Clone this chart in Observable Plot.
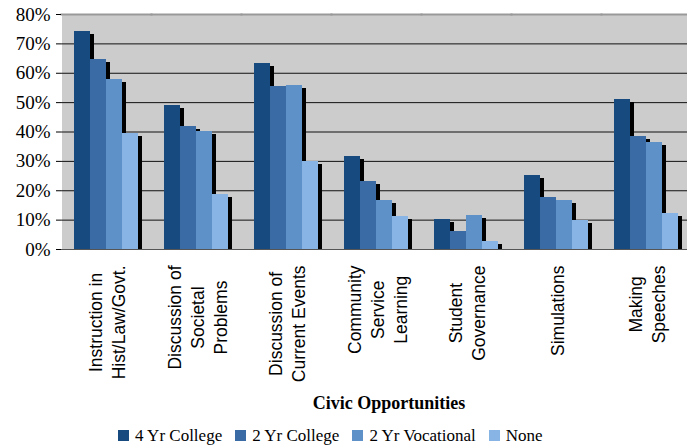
<!DOCTYPE html>
<html><head><meta charset="utf-8">
<script src="https://cdn.jsdelivr.net/npm/d3@7"></script>
<script src="https://cdn.jsdelivr.net/npm/@observablehq/plot@0.6"></script>
<style>
html,body{margin:0;padding:0;background:#fff}
#chart{position:relative;width:687px;height:445px;overflow:hidden}
#title{position:absolute;left:0;width:778px;top:393px;height:20px;line-height:20px;text-align:center;font:bold 18px "Liberation Serif",serif;color:#000}
#legend{position:absolute;left:118px;top:427px;height:17px;display:flex;align-items:center;font:17px "Liberation Serif",serif;color:#000;white-space:nowrap}
#legend .sw{width:11px;height:11px;margin-right:6px}
#legend .it{display:flex;align-items:center;margin-right:13px}
</style></head><body><div id="chart"></div><script>
const categories = ["Instruction in\nHist/Law/Govt.", "Discussion of\nSocietal\nProblems", "Discussion of\nCurrent Events", "Community\nService\nLearning", "Student\nGovernance", "Simulations", "Making\nSpeeches"];
const series = ["4 Yr College", "2 Yr College", "2 Yr Vocational", "None"];
const colors = ["#174a7e", "#3a6ba4", "#5e91c8", "#87b4e5"];
const college4 = [74.2, 49.0, 63.3, 31.7, 10.2, 25.2, 51.1];
const college2 = [64.7, 41.9, 55.5, 23.1, 6.1, 17.7, 38.5];
const vocational = [57.9, 40.2, 55.8, 16.7, 11.6, 16.7, 36.4];
const none = [39.4, 18.7, 29.9, 11.2, 2.7, 9.9, 12.3];
const yTicks = [0, 10, 20, 30, 40, 50, 60, 70, 80];
const xTitle = "Civic Opportunities";

const seriesValues = [college4, college2, vocational, none];
const rows = [];
categories.forEach((c, i) => series.forEach((s, j) => rows.push({category: c, series: s, value: seriesValues[j][i]})));

const W = 687, H = 388, mLeft = 58, mRight = -6, mTop = 14, mBottom = H - 249;
const fxBand = (W - mLeft - mRight) / categories.length;
const pxPerUnit = (H - mTop - mBottom) / 80;
const tickLen = 5;
const labelFont = "17.5px 'Liberation Sans'";
const ctx = document.createElement("canvas").getContext("2d");
ctx.font = labelFont;
const maxLen = categories.map(c => Math.max(...c.split("\n").map(l => ctx.measureText(l).width)));

const labelMarks = categories.map((c, i) => Plot.text([c], {
  fx: d => d, text: d => d, frameAnchor: "bottom", rotate: -90,
  textAnchor: "middle", lineAnchor: "middle", lineHeight: 1.3,
  dy: 16 + maxLen[i] / 2, fontFamily: "Liberation Sans", fontSize: 17.5, fill: "#000"
}));

const chart = Plot.plot({
  width: W, height: H,
  marginLeft: mLeft, marginRight: mRight, marginTop: mTop, marginBottom: mBottom,
  style: {fontFamily: "Liberation Serif", fontSize: "19px", background: "transparent", color: "#000"},
  fx: {domain: categories, padding: 0, axis: null},
  x: {domain: series, paddingInner: 0, paddingOuter: 0.75, axis: null},
  y: {domain: [0, 80], axis: null, label: null},
  color: {domain: series, range: colors},
  marks: [
    Plot.frame({fill: "#cccccc", stroke: "none", shapeRendering: "crispEdges"}),
    Plot.gridY(yTicks, {stroke: "#111", strokeOpacity: 1}),
    Plot.frame({anchor: "top", stroke: "#999", strokeWidth: 2}),
    Plot.barY(rows, {fx: "category", x: "series", y: "value", fill: "#000", dx: 4, insetTop: 3, shapeRendering: "crispEdges"}),
    Plot.barY(rows, {fx: "category", x: "series", y: "value", fill: "series", shapeRendering: "crispEdges"}),
    Plot.frame({anchor: "bottom", stroke: "#555"}),
    Plot.ruleX(categories, {fx: d => d, y1: 0, y2: -tickLen / pxPerUnit, dx: -fxBand / 2, stroke: "#555"}),
    Plot.ruleX([categories[0]], {fx: d => d, dx: -fxBand / 2, stroke: "#000"}),
    Plot.axisY(yTicks, {tickFormat: d => d + "%", tickSize: 5, tickPadding: 6, anchor: "left", label: null,
      fontFamily: "Liberation Serif", fontSize: 19, fill: "#000", stroke: "#000"}),
    ...labelMarks
  ]
});

const root = document.getElementById("chart");
root.appendChild(chart);
d3.select(chart).selectAll("text").filter(function() { return /%$/.test(this.textContent); })
  .attr("font-family", "Liberation Serif")
  .style("font-family", "'Liberation Serif', 'Times New Roman', serif")
  .style("font-size", "19px");
const title = document.createElement("div");
title.id = "title"; title.textContent = xTitle;
root.appendChild(title);
const legend = document.createElement("div");
legend.id = "legend";
series.forEach((s, j) => {
  const it = document.createElement("span"); it.className = "it";
  const sw = document.createElement("span"); sw.className = "sw"; sw.style.background = colors[j];
  const tx = document.createElement("span"); tx.textContent = s;
  it.appendChild(sw); it.appendChild(tx); legend.appendChild(it);
});
root.appendChild(legend);
</script></body></html>
